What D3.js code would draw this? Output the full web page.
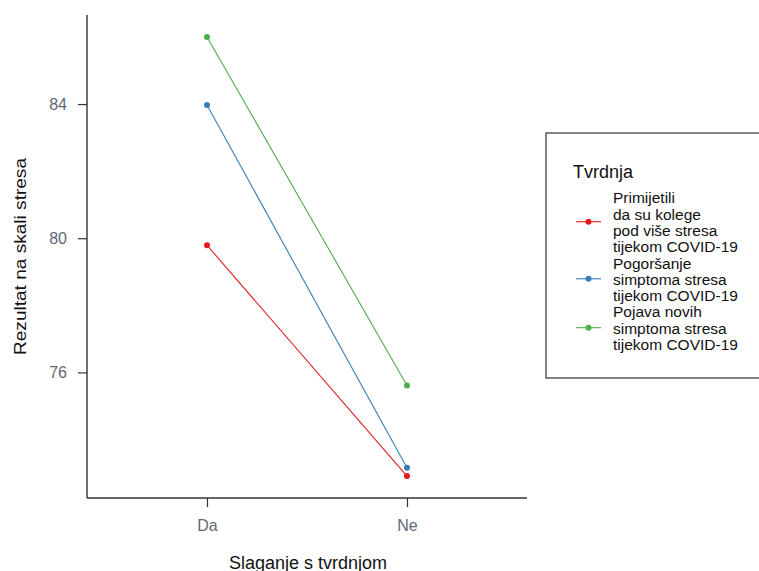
<!DOCTYPE html>
<html><head><meta charset="utf-8">
<script src="https://cdn.jsdelivr.net/npm/d3@7"></script>
<style>body{margin:0;background:#fff}svg{display:block;font-family:"Liberation Sans",Arial,sans-serif}</style>
</head><body>
<svg id="c" width="759" height="571"></svg>
<script>
const categories = ["Da", "Ne"];
const seriesNames = ["Primijetili da su kolege pod više stresa tijekom COVID-19", "Pogoršanje simptoma stresa tijekom COVID-19", "Pojava novih simptoma stresa tijekom COVID-19"];
const legendLines = [["Primijetili", "da su kolege", "pod više stresa", "tijekom COVID-19"], ["Pogoršanje", "simptoma stresa", "tijekom COVID-19"], ["Pojava novih", "simptoma stresa", "tijekom COVID-19"]];
const valuesPrimijetili = [79.79, 72.91];
const valuesPogorsanje = [83.97, 73.16];
const valuesPojava = [86.0, 75.61];
const seriesColors = ["#E41A1C", "#377EB8", "#4DAF4A"];
const yTicks = [76, 80, 84];

const series = [valuesPrimijetili, valuesPogorsanje, valuesPojava];
const svg = d3.select("#c");
const L = 87, R = 527, T = 15, B = 498;

const all = series.flat();
const mn = d3.min(all), mx = d3.max(all), pad = (mx - mn) * 0.05;
const y = d3.scaleLinear().domain([mn - pad, mx + pad]).range([B, T]);
const x = d3.scalePoint().domain(categories).range([L, R]).padding(0.6);

const axisCol = "#333333";
const tickCol = "#5f6775";
// y axis
const gy = svg.append("g").attr("transform", `translate(${L},0)`).call(d3.axisLeft(y).tickValues(yTicks).tickSize(9).tickPadding(11).tickFormat(d3.format("d")));
gy.select(".domain").attr("d", `M0,${T}V${B}`).attr("stroke", axisCol).attr("stroke-width", 1.4);
gy.selectAll(".tick line").attr("stroke", axisCol).attr("stroke-width", 1.2);
gy.selectAll(".tick text").attr("fill", tickCol).attr("font-size", 16).attr("font-family", "Liberation Sans, Arial, sans-serif");

// x axis
const gx = svg.append("g").attr("transform", `translate(0,${B})`).call(d3.axisBottom(x).tickSize(9).tickPadding(13));
gx.select(".domain").attr("d", `M${L},0H${R}`).attr("stroke", axisCol).attr("stroke-width", 1.4);
gx.selectAll(".tick line").attr("stroke", axisCol).attr("stroke-width", 1.2);
gx.selectAll(".tick text").attr("fill", tickCol).attr("font-size", 16).attr("font-family", "Liberation Sans, Arial, sans-serif");

// axis titles
svg.append("text").attr("x", (L + R) / 2 + 1).attr("y", 569).attr("text-anchor", "middle").attr("font-size", 18).attr("fill", "#111").text("Slaganje s tvrdnjom");
svg.append("text").attr("transform", `translate(26,${(158 + 355) / 2}) rotate(-90)`).attr("text-anchor", "middle").attr("font-size", 16)
  .attr("textLength", 197).attr("lengthAdjust", "spacingAndGlyphs").attr("fill", "#111").text("Rezultat na skali stresa");

// lines & points
const line = d3.line().x((d, i) => x(categories[i])).y(d => y(d));
series.forEach((vals, s) => {
  svg.append("path").attr("d", line(vals)).attr("fill", "none").attr("stroke", seriesColors[s]).attr("stroke-width", 1.1);
  svg.selectAll(null).data(vals).enter().append("circle")
    .attr("cx", (d, i) => x(categories[i])).attr("cy", d => y(d)).attr("r", 3).attr("fill", seriesColors[s]);
});

// legend
const lg = svg.append("g");
lg.append("rect").attr("x", 546).attr("y", 133).attr("width", 230).attr("height", 245).attr("fill", "#fff").attr("stroke", "#333").attr("stroke-width", 1.2);
lg.append("text").attr("x", 573).attr("y", 178).attr("font-size", 18).attr("fill", "#111").text("Tvrdnja");
const lh = 16.3;
let ty = 203.3;
legendLines.forEach((lines, s) => {
  const startY = ty;
  lines.forEach((t, k) => {
    lg.append("text").attr("x", 613).attr("y", ty + k * lh).attr("font-size", 15.5).attr("fill", "#111").text(t);
  });
  const cy = startY + (lines.length - 1) * lh / 2 - 6;
  lg.append("line").attr("x1", 576).attr("x2", 601).attr("y1", cy).attr("y2", cy).attr("stroke", seriesColors[s]).attr("stroke-width", 1.1);
  lg.append("circle").attr("cx", 588.5).attr("cy", cy).attr("r", 3).attr("fill", seriesColors[s]);
  ty += lines.length * lh;
});
</script>
</body></html>
